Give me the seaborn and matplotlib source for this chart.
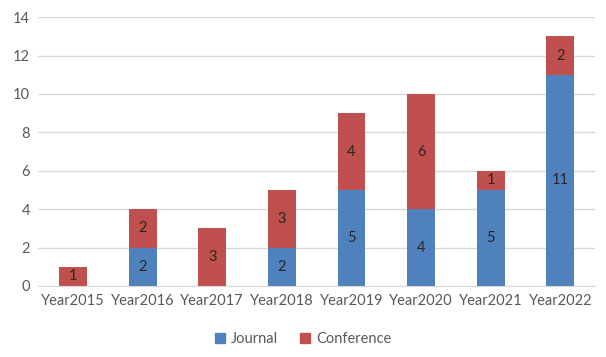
import matplotlib
matplotlib.use('Agg')
import matplotlib.pyplot as plt
import seaborn as sns
import pandas as pd
from matplotlib.patches import Patch

years = ['Year2015', 'Year2016', 'Year2017', 'Year2018', 'Year2019', 'Year2020', 'Year2021', 'Year2022']
journal = [0, 2, 0, 2, 5, 4, 5, 11]
conference = [1, 2, 3, 3, 4, 6, 1, 2]

blue = '#4F81BD'
red = '#C0504D'
txt = '#595959'

sns.set_style('white')
plt.rcParams['font.family'] = ['Lato', 'DejaVu Sans']

df = pd.DataFrame({'year': years, 'journal': journal, 'conference': conference})
df['total'] = df['journal'] + df['conference']

fig = plt.figure(figsize=(6.06, 3.57), dpi=100)
ax = fig.add_axes([0.063, 0.199, 0.919, 0.753])

# stacked: total in conference colour, journal drawn over it
sns.barplot(data=df, x='year', y='total', color=red, width=0.4, saturation=1, linewidth=0, ax=ax)
sns.barplot(data=df, x='year', y='journal', color=blue, width=0.4, saturation=1, linewidth=0, ax=ax)

for i, row in df.iterrows():
    if row['journal'] > 0:
        ax.text(i, row['journal'] / 2, str(row['journal']), ha='center', va='center',
                fontsize=10.5, color='#262626')
    if row['conference'] > 0:
        ax.text(i, row['journal'] + row['conference'] / 2, str(row['conference']),
                ha='center', va='center', fontsize=10.5, color='#262626')

ax.set_ylim(0, 14)
ax.set_yticks(range(0, 15, 2))
ax.set_xlim(-0.5, 7.5)
ax.yaxis.grid(True, color='#D9D9D9', linewidth=1)
ax.set_axisbelow(True)
for s in ['top', 'right', 'left']:
    ax.spines[s].set_visible(False)
ax.spines['bottom'].set_color('#D9D9D9')
ax.tick_params(axis='both', length=0, labelsize=10.5, colors=txt, pad=6)
ax.set_xlabel('')
ax.set_ylabel('')

handles = [Patch(color=blue, label='Journal'), Patch(color=red, label='Conference')]
fig.legend(handles=handles, loc='center', bbox_to_anchor=(0.5, 0.05), ncol=2, frameon=False,
           fontsize=10.5, handlelength=0.7, handleheight=0.7, handletextpad=0.4, columnspacing=1.5,
           labelcolor=txt)

fig.savefig('out.png', dpi=100)
